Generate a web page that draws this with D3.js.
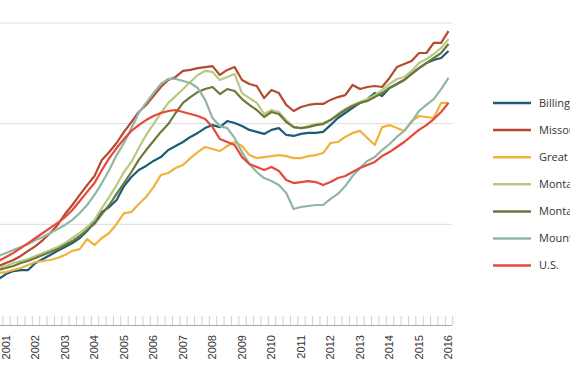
<!DOCTYPE html>
<html>
<head>
<meta charset="utf-8">
<script src="https://cdn.jsdelivr.net/npm/d3@7"></script>
<style>
  body { margin: 0; background: #fff; }
  svg { display: block; }
</style>
</head>
<body>
<div id="chart"></div>
<script>
// quarterly index values, first point is 2000 Q4
const firstQuarter = 2000.75;

const billings = [122.8,125.3,126.8,127.3,127.3,130.8,132.8,134.8,136.8,138.7,140.7,143.2,146.7,151.2,156.1,158.6,162.1,169.0,173.5,177.0,179.0,181.5,183.4,186.9,188.9,190.9,193.4,195.4,197.8,199.3,198.3,201.3,200.3,198.8,196.9,195.9,194.9,196.9,197.8,194.4,193.9,194.9,195.4,195.4,195.9,199.3,202.8,205.3,207.8,210.3,212.2,215.2,213.7,217.7,219.7,221.7,224.7,227.6,230.1,231.6,232.6,236.1];
const missoula = [129.3,130.8,132.3,134.3,136.8,139.2,142.2,145.7,149.7,155.1,159.6,164.6,169.5,174.0,182.0,185.9,190.4,195.9,200.8,205.8,209.3,213.7,218.2,221.7,223.2,226.2,226.7,227.6,228.1,228.6,224.2,226.7,228.1,221.7,219.7,218.7,212.7,216.7,215.2,209.3,206.3,208.3,209.3,209.8,209.8,211.8,213.2,214.2,219.2,217.2,218.2,218.7,218.2,222.7,228.1,229.6,231.1,235.1,235.1,240.1,240.1,246.0];
const greatFalls = [125.8,126.3,127.3,128.3,129.8,131.3,131.8,132.3,133.3,134.8,136.8,137.7,142.7,139.7,143.2,145.7,150.2,155.6,156.1,160.1,163.6,168.5,174.5,175.5,178.0,179.5,182.9,185.9,188.4,187.4,186.4,188.9,190.9,188.9,184.4,182.9,183.4,183.9,184.4,183.9,182.9,182.9,183.9,184.4,185.4,190.4,190.9,193.4,195.4,196.4,192.9,189.4,198.3,199.3,197.8,196.4,201.3,203.8,203.3,202.8,210.3,210.3];
const montana = [128.3,129.3,130.8,131.8,132.8,134.3,135.8,137.3,138.7,140.7,143.2,145.7,148.7,152.2,158.1,163.6,169.5,176.0,181.0,187.9,194.4,199.8,205.3,210.3,213.7,217.2,220.7,224.2,226.2,225.7,221.7,223.2,224.7,215.2,212.7,210.3,204.8,206.8,205.8,201.8,198.3,197.8,198.8,199.8,200.3,201.8,204.8,207.3,209.3,210.8,212.2,214.2,216.7,219.7,222.2,223.2,226.2,230.1,232.1,234.6,237.6,242.0];
const montanaNonmetro = [127.3,128.3,129.3,130.8,131.8,133.3,134.8,136.3,137.7,139.7,141.7,144.2,147.2,150.2,155.1,159.6,165.1,170.5,176.0,182.0,186.9,191.4,195.9,199.8,205.3,210.3,213.2,215.7,217.2,218.2,214.7,217.2,216.2,212.2,209.3,206.8,203.3,205.8,204.8,200.8,198.3,197.8,198.3,199.3,199.8,201.8,204.3,206.8,208.8,210.3,211.3,213.2,215.2,217.7,219.7,221.7,224.7,227.6,230.1,232.6,235.1,239.6];
const mountain = [134.3,135.8,137.3,138.7,140.2,142.2,143.7,145.7,147.7,149.7,152.2,155.6,159.6,164.6,170.5,177.0,184.4,190.4,197.8,205.3,210.3,215.2,219.7,222.2,222.2,221.2,220.2,217.7,211.8,202.8,198.8,197.8,192.9,185.9,180.0,176.0,173.0,171.5,169.5,165.6,157.6,158.6,159.1,159.6,159.6,162.6,165.1,169.0,174.0,178.0,181.5,183.4,186.9,189.9,193.4,196.4,200.8,206.3,209.3,212.2,217.2,222.7];
const us = [131.8,133.8,135.8,138.2,140.7,143.2,145.7,148.2,150.7,153.6,157.1,161.6,166.1,170.5,177.0,182.9,187.9,192.4,196.4,199.3,201.8,203.8,205.3,206.3,206.8,205.8,204.8,203.8,202.3,198.3,192.4,190.9,189.4,183.4,180.0,178.5,177.0,178.5,176.5,172.0,170.5,171.0,171.5,171.0,169.5,171.0,173.0,174.0,176.0,178.0,179.5,181.0,183.9,185.9,188.4,190.9,193.9,196.9,199.3,202.3,205.8,210.3];

const seriesNames = ["Billings", "Missoula", "Great Falls", "Montana", "Montana Nonmetro", "Mountain Region", "U.S."];
const seriesValues = [billings, missoula, greatFalls, montana, montanaNonmetro, mountain, us];
const colors = ["#1d5b78", "#b44a2e", "#f0b23b", "#b9c97f", "#6c783a", "#90b7a3", "#e6483a"];
const gridValues = [150, 200, 250];
const yearLabels = [2001, 2002, 2003, 2004, 2005, 2006, 2007, 2008, 2009, 2010, 2011, 2012, 2013, 2014, 2015, 2016];

const width = 570;
const height = 370;
const plotRight = 452;
const baseline = 325;

const x = d3.scaleLinear().domain([2001, 2016]).range([6, 448.5]);
const y = d3.scaleLinear().domain([100, 250]).range([baseline, 23]);

const quarters = d3.range(billings.length).map(i => firstQuarter + i / 4);

const svg = d3.select("#chart")
    .append("svg")
    .attr("width", width)
    .attr("height", height);

// grid
svg.append("g")
    .selectAll("line")
    .data(gridValues)
    .enter()
    .append("line")
    .attr("x1", 0)
    .attr("x2", plotRight)
    .attr("y1", d => y(d))
    .attr("y2", d => y(d))
    .attr("stroke", "#dcdcdc")
    .attr("stroke-width", 1);

// quarter ticks sit between the points
const tickValues = quarters.map(q => q - 0.125).concat([quarters[quarters.length - 1] + 0.125]);
const xAxis = svg.append("g")
    .attr("transform", "translate(0," + baseline + ")")
    .call(d3.axisBottom(x).tickValues(tickValues).tickSize(-9).tickFormat(""));
xAxis.select(".domain").remove();
xAxis.selectAll(".tick line").attr("stroke", "#d0d0d0");

svg.append("line")
    .attr("x1", 0)
    .attr("x2", plotRight)
    .attr("y1", baseline + 0.5)
    .attr("y2", baseline + 0.5)
    .attr("stroke", "#a8a8a8");

svg.append("g")
    .selectAll("text")
    .data(yearLabels)
    .enter()
    .append("text")
    .attr("transform", d => "translate(" + x(d) + "," + (baseline + 10) + ") rotate(-90)")
    .attr("text-anchor", "end")
    .attr("dy", "0.35em")
    .attr("font-family", "Liberation Sans, Arial, sans-serif")
    .attr("font-size", "11px")
    .attr("fill", "#333")
    .text(d => d);

// lines
const line = d3.line()
    .x((d, i) => x(quarters[i]))
    .y(d => y(d));

svg.append("g")
    .selectAll("path")
    .data(seriesValues)
    .enter()
    .append("path")
    .attr("d", d => line(d))
    .attr("fill", "none")
    .attr("stroke", (d, i) => colors[i])
    .attr("stroke-width", 2.2)
    .attr("stroke-linejoin", "round");

// legend (names run past the right edge, as in the source crop)
const legend = svg.append("g")
    .selectAll("g")
    .data(seriesNames)
    .enter()
    .append("g")
    .attr("transform", (d, i) => "translate(493," + (103 + i * 27.1) + ")");

legend.append("line")
    .attr("x1", 0)
    .attr("x2", 38)
    .attr("stroke", (d, i) => colors[i])
    .attr("stroke-width", 2.5);

legend.append("text")
    .attr("x", 46)
    .attr("dy", "0.35em")
    .attr("font-family", "Open Sans, sans-serif")
    .attr("font-size", "11px")
    .attr("fill", "#333")
    .text(d => d);
</script>
</body>
</html>
